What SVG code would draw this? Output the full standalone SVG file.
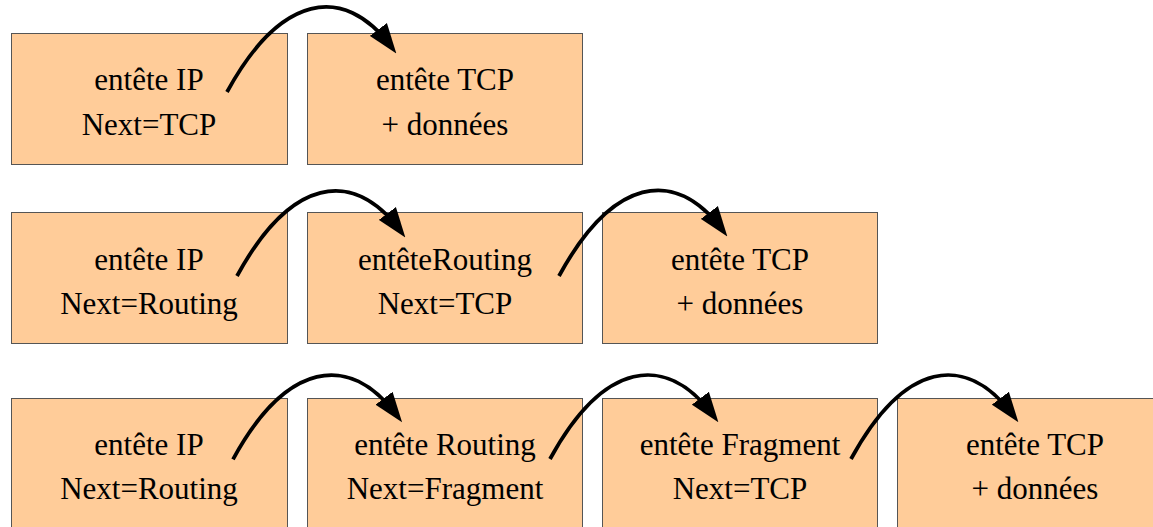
<svg xmlns="http://www.w3.org/2000/svg" width="1153" height="527" viewBox="0 0 1153 527">
<style>
.box{fill:#ffcc99;stroke:#555;stroke-width:1}
.t{font-family:"Liberation Serif","Times New Roman",serif;font-size:31px;fill:#000;text-anchor:middle}
.c{fill:none;stroke:#000;stroke-width:3.8;marker-end:url(#ah)}
</style>
<defs>
<marker id="ah" markerUnits="userSpaceOnUse" markerWidth="30" markerHeight="22" refX="20" refY="10" orient="auto" viewBox="0 0 28 20">
<path d="M0,0 L28,10 L0,20 z" fill="#000"/>
</marker>
</defs>
<rect width="1153" height="527" fill="#fff"/>
<g id="r1n1"><rect class="box" x="11.5" y="33.5" width="276" height="131"/><text class="t" x="149" y="90">entête IP</text><text class="t" x="149" y="135">Next=TCP</text></g>
<g id="r1n2"><rect class="box" x="307.5" y="33.5" width="275" height="131"/><text class="t" x="445" y="90">entête TCP</text><text class="t" x="445" y="135">+ données</text></g>
<g id="r2n1"><rect class="box" x="11.5" y="212.5" width="276" height="131"/><text class="t" x="149" y="270">entête IP</text><text class="t" x="149" y="314">Next=Routing</text></g>
<g id="r2n2"><rect class="box" x="307.5" y="212.5" width="275" height="131"/><text class="t" x="445" y="270">entêteRouting</text><text class="t" x="445" y="314">Next=TCP</text></g>
<g id="r2n3"><rect class="box" x="602.5" y="212.5" width="275" height="131"/><text class="t" x="740" y="270">entête TCP</text><text class="t" x="740" y="314">+ données</text></g>
<g id="r3n1"><rect class="box" x="11.5" y="398.5" width="276" height="140"/><text class="t" x="149" y="455">entête IP</text><text class="t" x="149" y="499">Next=Routing</text></g>
<g id="r3n2"><rect class="box" x="307.5" y="398.5" width="275" height="140"/><text class="t" x="445" y="455">entête Routing</text><text class="t" x="445" y="499">Next=Fragment</text></g>
<g id="r3n3"><rect class="box" x="602.5" y="398.5" width="275" height="140"/><text class="t" x="740" y="455">entête Fragment</text><text class="t" x="740" y="499">Next=TCP</text></g>
<g id="r3n4"><rect class="box" x="897.5" y="398.5" width="276" height="140"/><text class="t" x="1035" y="455">entête TCP</text><text class="t" x="1035" y="499">+ données</text></g>
<g id="connectors">
<path class="c" d="M227,92 C280,-5 343,-17.4 391.2,46.6"/>
<path class="c" d="M237,276 C290,179 352,166.6 400.2,230.6"/>
<path class="c" d="M559,276 C612,179 674,165.6 722.2,229.6"/>
<path class="c" d="M233,459.3 C286,362.3 348.7,351.3 396.9,415.3"/>
<path class="c" d="M550,459 C603,362 665,351.3 713.2,415.3"/>
<path class="c" d="M851,459 C904,362 965,351.3 1013.2,415.3"/>
</g>
</svg>
